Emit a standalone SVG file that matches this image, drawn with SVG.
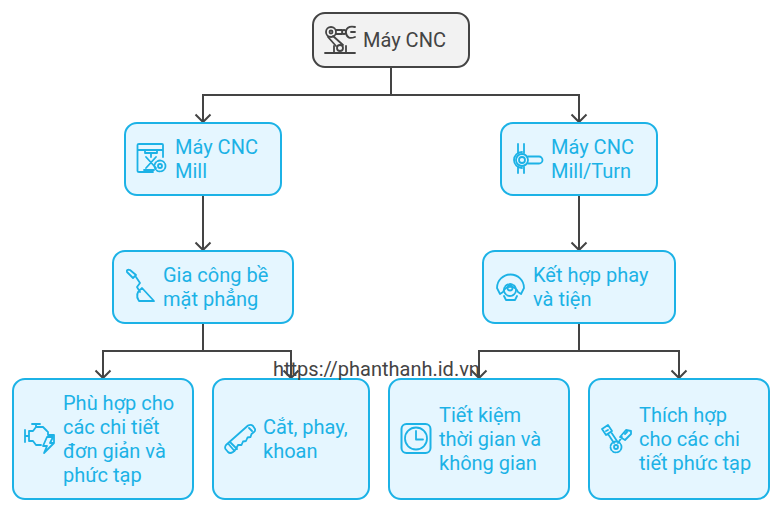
<svg xmlns="http://www.w3.org/2000/svg" width="782" height="512" viewBox="0 0 782 512">
<defs>
<marker id="arr" markerUnits="userSpaceOnUse" markerWidth="16" markerHeight="18" refX="10" refY="9" orient="auto" viewBox="0 0 16 18"><path d="M2.500 1.500 L10 9 L2.500 16.500" fill="none" stroke="#444" stroke-width="2"/></marker>
</defs>
<style>
text{font-family:Roboto,"Liberation Sans",sans-serif;font-size:20px}
.n rect{fill:#e5f6ff;stroke:#1cb2e6;stroke-width:2}
.n text{fill:#1cb2e6}
.i{fill:none;stroke:#1cb2e6;stroke-width:1.800;stroke-linecap:round;stroke-linejoin:round}
.d{fill:none;stroke:#444;stroke-width:1.800;stroke-linecap:round;stroke-linejoin:round}
.c path{fill:none;stroke:#444;stroke-width:2;marker-end:url(#arr)}
</style>
<rect width="782" height="512" fill="#fff"/>
<g id="connectors" class="c">
<path d="M391 67V95H203V122"/>
<path d="M391 67V95H579V122"/>
<path d="M203 195V250"/>
<path d="M579 195V250"/>
<path d="M203 323V351H103V378"/>
<path d="M203 323V351H291V378"/>
<path d="M579 323V351H479V378"/>
<path d="M579 323V351H679V378"/>
</g>
<g id="n-root" class="n">
<rect x="313" y="13" width="156" height="54" rx="12" style="fill:#f2f2f2;stroke:#444"/>
<g class="d"><circle cx="331" cy="32" r="5"/><circle cx="331" cy="32" r="1.500"/><path d="M336 30H342M336 34H342"/><circle cx="344" cy="32" r="2"/><path d="M346 31C347 27 350 26 355 27M346 33C347 38 350 39 355 37M351 32H355"/><path d="M328 37L336 46M333 36L343 45"/><circle cx="340" cy="48" r="3"/><path d="M334 46V52M346 46V52M325 53H355"/></g>
<text x="363" y="47" style="fill:#444">Máy CNC</text>
</g>
<g id="n-mill" class="n">
<rect x="125" y="123" width="156" height="72" rx="12"/>
<g class="i"><path d="M153 172H139Q137.500 172 137.500 171V145Q137.500 144 139 144H162Q163 144 163 145V157M137.500 150H163"/><path d="M145 150V153H157V150M151 153V157M146 157L156 168M156 157L146 168M144 170H154"/><circle cx="160" cy="166" r="2"/><circle cx="160" cy="166" r="5.500" stroke-dasharray="3 1.500"/></g>
<text x="175" y="154">Máy CNC</text><text x="175" y="178">Mill</text>
</g>
<g id="n-millturn" class="n">
<rect x="501" y="123" width="156" height="72" rx="12"/>
<g class="i"><circle cx="522" cy="160" r="3"/><circle cx="522" cy="160" r="6"/><path d="M518 144V153M524 144V153M518 167V173M524 167V173M528 156.500H539A3.500 3.500 0 0 1 539 163.500H528"/><path d="M514 160A8 8 0 0 1 522 152M514 160A8 8 0 0 0 522 168"/></g>
<text x="551" y="154">Máy CNC</text><text x="551" y="178">Mill/Turn</text>
</g>
<g id="n-surface" class="n">
<rect x="113" y="251" width="180" height="72" rx="12"/>
<g class="i"><path d="M127 272L133 278L136 275L130 270Q126 269 127 272ZM136 277L140 283L137 287L140 292M142 288L154 301L139 301Q134 294 142 288Z"/></g>
<text x="163" y="282">Gia công bề</text><text x="163" y="306">mặt phẳng</text>
</g>
<g id="n-combine" class="n">
<rect x="483" y="251" width="192" height="72" rx="12"/>
<g class="i"><path d="M497 288A13.500 13.500 0 0 1 524 288L521 294L518 292A8 8 0 0 0 503 292L500 294Z"/><circle cx="510" cy="288" r="2.500"/><circle cx="510" cy="290" r="6" stroke-dasharray="3 1.500"/><path d="M504 296L506 300H515L517 296"/></g>
<text x="533" y="282">Kết hợp phay</text><text x="533" y="306">và tiện</text>
</g>
<g id="n-suit" class="n">
<rect x="13" y="379" width="180" height="120" rx="12"/>
<g class="i"><path d="M25 430V442M25 436H29M29 431V441M29 431H33L36 427H43L47 431M36 427V424M32 424H40M29 441H33L36 445H41M48 432V435H54V442"/><path d="M47 437L43 446H47L44 453L54 443H50L53 437Z"/></g>
<text x="63" y="410">Phù hợp cho</text><text x="63" y="434">các chi tiết</text><text x="63" y="458">đơn giản và</text><text x="63" y="482">phức tạp</text>
</g>
<g id="n-cut" class="n">
<rect x="213" y="379" width="156" height="120" rx="12"/>
<g class="i"><path d="M226 445L248 425.500Q251 424 253 426L255 429Q255.500 431 254 432L251.500 434L250.500 437L247.500 437.500L246 441L243 441.500L241.500 445L238 445L236 449L233 452Q230 454 228 452L225.500 449Q224.500 447 226 445ZM230 442L237 449M228.500 444L234.500 451M249 428L252 431"/></g>
<text x="263" y="434">Cắt, phay,</text><text x="263" y="458">khoan</text>
</g>
<g id="n-save" class="n">
<rect x="389" y="379" width="180" height="120" rx="12"/>
<g class="i"><rect x="401.500" y="424" width="29" height="29" rx="5"/><circle cx="416" cy="438.500" r="11"/><path d="M416 431V439.500H423"/></g>
<text x="439" y="422">Tiết kiệm</text><text x="439" y="446">thời gian và</text><text x="439" y="470">không gian</text>
</g>
<g id="n-fit" class="n">
<rect x="589" y="379" width="180" height="120" rx="12"/>
<g class="i"><path d="M602 429L608 425L612 431L606 435ZM606 431L608 430M608 434L614 443M611 432L617 441M631 431L626 430L620 437L625 440L631 434ZM622 437L618 443M625 434L627 432"/><circle cx="616" cy="447" r="2"/><circle cx="616" cy="447" r="5.500" stroke-dasharray="3 1.500"/></g>
<text x="639" y="422">Thích hợp</text><text x="639" y="446">cho các chi</text><text x="639" y="470">tiết phức tạp</text>
</g>
<text x="273" y="376" style="fill:#444;font-size:20px">https://phanthanh.id.vn</text>
</svg>
